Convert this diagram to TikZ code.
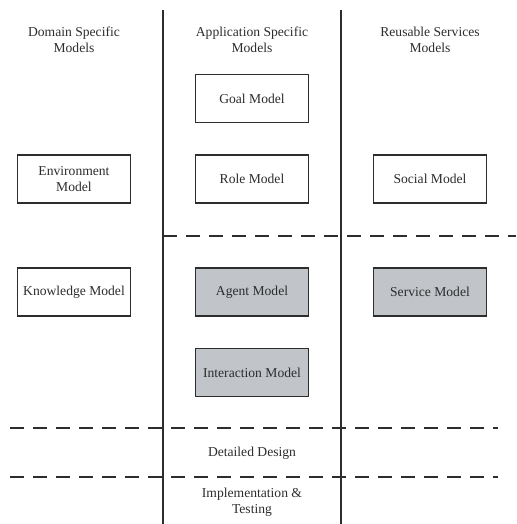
\documentclass[tikz,border=0pt]{standalone}
\usepackage{fontspec}
\setmainfont{Liberation Serif}
\definecolor{shade}{RGB}{193,196,201}
\definecolor{ink}{RGB}{45,45,45}
\begin{document}
\begin{tikzpicture}[x=1pt,y=-1pt,
  every node/.style={font=\fontsize{13.6}{16}\selectfont, text=ink, align=center},
  model/.style={draw=ink, line width=1.2pt, minimum width=113pt, minimum height=48pt, inner sep=0pt},
  plain/.style={model, fill=white},
  filled/.style={model, fill=shade},
  divider/.style={draw=ink, line width=1.4pt},
  phase/.style={draw=ink, line width=1.5pt, dash pattern=on 14pt off 9pt}]
\useasboundingbox (0,0) rectangle (516,524);

% column dividers
\draw[divider] (163,10) -- (163,524);
\draw[divider] (341,10) -- (341,524);

% phase boundaries
\draw[phase] (163,236) -- (516,236);
\draw[phase] (10,428) -- (498,428);
\draw[phase] (10,477) -- (498,477);

% column headings
\node (hdom) at (74,40) {Domain Specific\\Models};
\node (happ) at (252,40) {Application Specific\\Models};
\node (hreu) at (430,40) {Reusable Services\\Models};

% models
\node[plain] (goal) at (252,98.5) {Goal Model};
\node[plain] (env) at (74,179) {Environment\\Model};
\node[plain] (role) at (252,179) {Role Model};
\node[plain] (social) at (430,179) {Social Model};
\node[plain] (know) at (74,292) {Knowledge Model};
\node[filled] (agent) at (252,292) {Agent Model};
\node[filled] (service) at (430,292) {Service Model};
\node[filled] (inter) at (252,372.5) {Interaction Model};

% later phases
\node (detail) at (252,453.5) {Detailed Design};
\node (impl) at (252,502) {Implementation \&\\Testing};
\end{tikzpicture}
\end{document}
